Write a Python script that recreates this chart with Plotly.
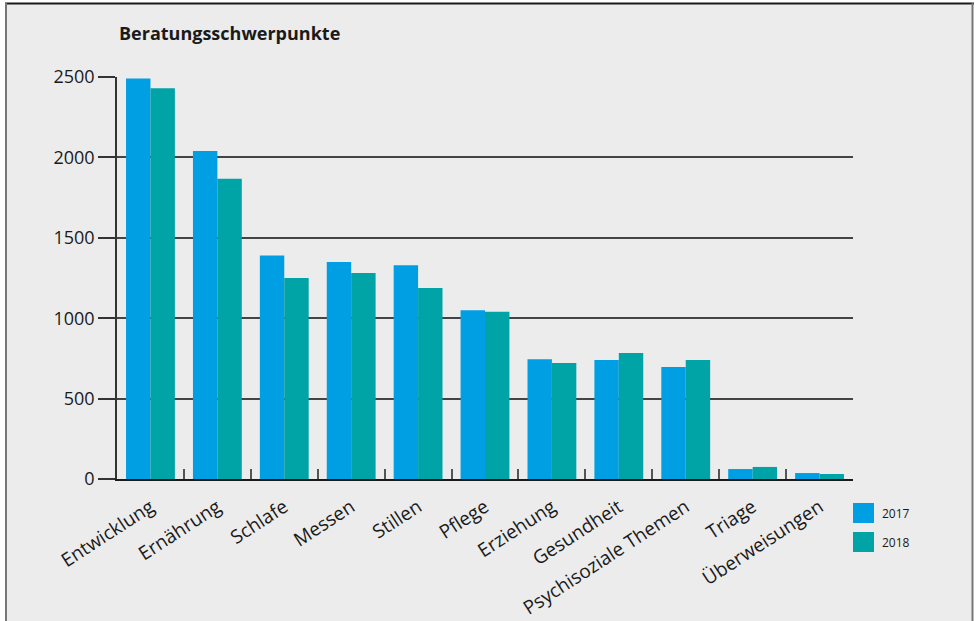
import plotly.graph_objects as go

categories = ["Entwicklung", "Ernährung", "Schlafe", "Messen", "Stillen", "Pflege",
              "Erziehung", "Gesundheit", "Psychisoziale Themen", "Triage", "Überweisungen"]
values_2017 = [2490, 2040, 1390, 1350, 1330, 1050, 745, 740, 697, 62, 37]
values_2018 = [2430, 1868, 1250, 1281, 1188, 1040, 721, 784, 740, 75, 31]
series_names = ["2017", "2018"]
colors = ["#009fe3", "#00a3a6"]
y_ticks = [0, 500, 1000, 1500, 2000, 2500]

W, H = 978, 621
L, R, T, B = 117, 853, 77, 479

def px(x):
    return (x - L) / (R - L)

def py(y):
    return (B - y) / (B - T)

fig = go.Figure()
for name, vals, col in zip(series_names, [values_2017, values_2018], colors):
    fig.add_trace(go.Bar(x=categories, y=vals, name=name, marker=dict(color=col, line=dict(width=0)),
                         showlegend=False))

font_family = "Open Sans, Noto Sans, sans-serif"

shapes = [
    dict(type="rect", xref="paper", yref="paper", x0=px(6), x1=px(973), y0=py(630), y1=py(3),
         fillcolor="#ececec", line=dict(width=0), layer="below"),
    dict(type="line", xref="paper", yref="paper", x0=px(5), x1=px(974), y0=py(3.5), y1=py(3.5),
         line=dict(color="#1a1a1a", width=2), layer="below"),
    dict(type="line", xref="paper", yref="paper", x0=px(6), x1=px(6), y0=py(3), y1=py(630),
         line=dict(color="#777777", width=2), layer="below"),
    dict(type="line", xref="paper", yref="paper", x0=px(972.5), x1=px(972.5), y0=py(3), y1=py(630),
         line=dict(color="#777777", width=2), layer="below"),
]
annotations = []
leg_y = [(503, 523), (532, 552)]
for (y0, y1), name, col in zip(leg_y, series_names, colors):
    shapes.append(dict(type="rect", xref="paper", yref="paper", x0=px(853), x1=px(874),
                       y0=py(y1), y1=py(y0), fillcolor=col, line=dict(width=0)))
    annotations.append(dict(xref="paper", yref="paper", x=px(880), y=py((y0 + y1) / 2),
                            text=name, showarrow=False, xanchor="left", yanchor="middle",
                            font=dict(size=12, color="#1a1a1a", family=font_family)))

annotations.append(dict(xref="paper", yref="paper", x=px(117), y=py(33), text="<b>Beratungsschwerpunkte</b>",
                        showarrow=False, xanchor="left", yanchor="middle",
                        font=dict(size=18, color="#1a1a1a", family=font_family)))

fig.update_layout(
    width=W, height=H,
    margin=dict(l=L, r=W - R, t=T, b=H - B, pad=0, autoexpand=False),
    paper_bgcolor="white",
    plot_bgcolor="rgba(0,0,0,0)",
    barmode="group",
    bargap=0.27,
    bargroupgap=0,
    showlegend=False,
    shapes=shapes,
    annotations=annotations,
    font=dict(family=font_family, color="#1a1a1a", size=16),
    xaxis=dict(
        automargin=False,
        tickangle=-33,
        showline=True, linecolor="#1a1a1a", linewidth=1.5,
        ticks="inside", ticklen=10, tickcolor="#555555", tickwidth=2,
        tickson="boundaries",
        showgrid=False,
        ticklabelstandoff=8,
        tickfont=dict(size=19, family=font_family, color="#1a1a1a"),
    ),
    yaxis=dict(
        automargin=False,
        range=[0, 2500],
        tickvals=y_ticks,
        ticks="outside", ticklen=17, tickcolor="#333333", tickwidth=1.5,
        showline=True, linecolor="#333333", linewidth=1.5,
        showgrid=True, gridcolor="#444444", gridwidth=1.5,
        zeroline=False,
        tickfont=dict(size=18, family=font_family, color="#1a1a1a"),
    ),
)

fig.write_html("out.html", config={"displayModeBar": False},
               post_script="document.body.style.margin='0';")
